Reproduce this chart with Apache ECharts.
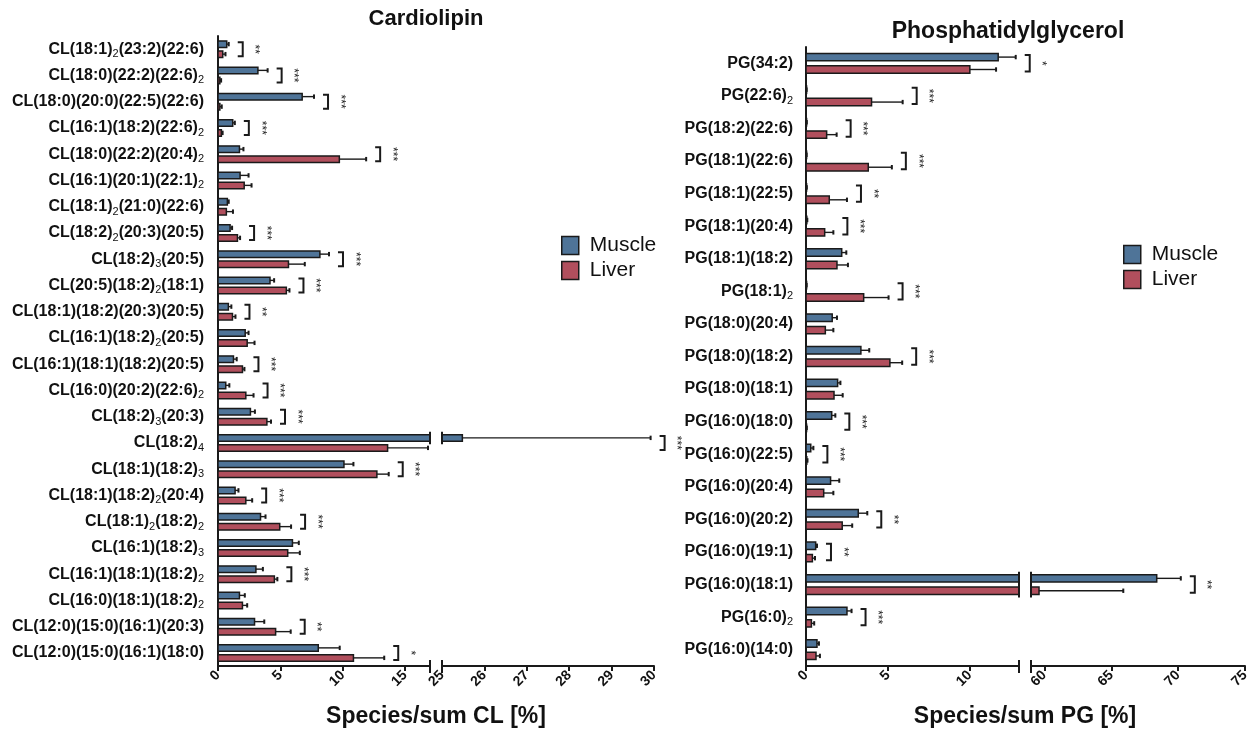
<!DOCTYPE html>
<html><head><meta charset="utf-8">
<script src="https://cdn.jsdelivr.net/npm/echarts@6/dist/echarts.min.js"></script>
<style>html,body{margin:0;padding:0;background:#fff}#c{width:1254px;height:734px}</style>
</head><body><div id="c"></div>
<script>
// ---------- Cardiolipin data ----------
const clCategories = [
  'CL(18:1)_2(23:2)(22:6)','CL(18:0)(22:2)(22:6)_2','CL(18:0)(20:0)(22:5)(22:6)','CL(16:1)(18:2)(22:6)_2',
  'CL(18:0)(22:2)(20:4)_2','CL(16:1)(20:1)(22:1)_2','CL(18:1)_2(21:0)(22:6)','CL(18:2)_2(20:3)(20:5)',
  'CL(18:2)_3(20:5)','CL(20:5)(18:2)_2(18:1)','CL(18:1)(18:2)(20:3)(20:5)','CL(16:1)(18:2)_2(20:5)',
  'CL(16:1)(18:1)(18:2)(20:5)','CL(16:0)(20:2)(22:6)_2','CL(18:2)_3(20:3)','CL(18:2)_4',
  'CL(18:1)(18:2)_3','CL(18:1)(18:2)_2(20:4)','CL(18:1)_2(18:2)_2','CL(16:1)(18:2)_3',
  'CL(16:1)(18:1)(18:2)_2','CL(16:0)(18:1)(18:2)_2','CL(12:0)(15:0)(16:1)(20:3)','CL(12:0)(15:0)(16:1)(18:0)'
];
const clMuscle    = [0.70,3.20,6.75,1.18,1.72,1.77,0.75,0.97,8.17,4.17,0.83,2.18,1.24,0.62,2.60,25.48,10.10,1.37,3.41,5.97,3.04,1.72,2.93,8.04];
const clMuscleErr = [0.16,0.78,0.95,0.17,0.32,0.68,0.11,0.16,0.73,0.33,0.24,0.27,0.26,0.29,0.36,4.44,0.76,0.27,0.40,0.51,0.56,0.43,0.78,1.72];
const clLiver     = [0.38,0.15,0.15,0.27,9.73,2.10,0.67,1.56,5.65,5.48,1.16,2.34,1.96,2.23,3.92,13.60,12.74,2.23,4.95,5.59,4.52,1.96,4.62,10.86];
const clLiverErr  = [0.22,0.10,0.15,0.10,2.15,0.59,0.53,0.21,1.31,0.25,0.24,0.59,0.16,0.62,0.33,3.24,0.95,0.51,0.91,0.97,0.24,0.38,1.21,2.47];
const clSig       = ['**','***','***','***','***','','','***','***','***','**','','***','***','***','***','***','***','***','','***','','**','*'];
const clTicks1 = [0,5,10,15];
const clTicks2 = [25,26,27,28,29,30];

// ---------- Phosphatidylglycerol data ----------
const pgCategories = [
  'PG(34:2)','PG(22:6)_2','PG(18:2)(22:6)','PG(18:1)(22:6)','PG(18:1)(22:5)','PG(18:1)(20:4)','PG(18:1)(18:2)',
  'PG(18:1)_2','PG(18:0)(20:4)','PG(18:0)(18:2)','PG(18:0)(18:1)','PG(16:0)(18:0)','PG(16:0)(22:5)','PG(16:0)(20:4)',
  'PG(16:0)(20:2)','PG(16:0)(19:1)','PG(16:0)(18:1)','PG(16:0)_2','PG(16:0)(14:0)'
];
const pgMuscle    = [11.73,0.02,0.03,0.02,0.03,0.05,2.18,0.02,1.60,3.35,1.93,1.57,0.29,1.50,3.19,0.59,68.4,2.50,0.67];
const pgMuscleErr = [1.07,0.02,0.02,0.02,0.02,0.03,0.28,0.02,0.29,0.51,0.17,0.22,0.16,0.53,0.55,0.08,1.8,0.28,0.12];
const pgLiver     = [10.00,4.00,1.26,3.80,1.42,1.14,1.89,3.52,1.18,5.12,1.71,0.03,0.05,1.08,2.21,0.39,59.6,0.33,0.61];
const pgLiverErr  = [1.60,1.90,0.61,1.44,1.08,0.53,0.67,1.52,0.49,0.75,0.53,0.02,0.04,0.59,0.61,0.16,6.3,0.17,0.24];
const pgSig       = ['*','***','***','***','**','***','','***','','***','','***','***','','**','**','**','***',''];
const pgTicks1 = [0,5,10];
const pgTicks2 = [60,65,70,75];

const BLUE = '#4f7498', RED = '#b14f5d', EDGE = '#1a1a1a', TXT = '#111';
const FONT = '"Liberation Sans", Arial, Helvetica, sans-serif';

const panels = [
  { cats: clCategories, m: clMuscle, me: clMuscleErr, l: clLiver, le: clLiverErr, sig: clSig,
    top: 36, height: 630, off: 5, thick: 6.5, labelMargin: 14,
    segs: [ {min: 0, max: 17, left: 218, width: 212, ticks: clTicks1},
            {min: 25, max: 30, left: 442, width: 212, ticks: clTicks2} ] },
  { cats: pgCategories, m: pgMuscle, me: pgMuscleErr, l: pgLiver, le: pgLiverErr, sig: pgSig,
    top: 47, height: 619, off: 6.2, thick: 7.4, labelMargin: 13,
    segs: [ {min: 0, max: 13, left: 806, width: 213, ticks: pgTicks1},
            {min: 59, max: 75, left: 1031, width: 214, ticks: pgTicks2} ] }
];

function barRender(seg, off, thick, color) {
  return function (params, api) {
    const i = api.value(0), v = api.value(1), e = api.value(2);
    const X = val => api.coord([val, i])[0];
    const yc = api.coord([seg.min, i])[1] + off;
    const y0 = yc - thick / 2;
    const ch = [];
    if (v > seg.min) {
      const a = seg.min, b = Math.min(v, seg.max);
      ch.push({ type: 'rect', shape: { x: X(a), y: y0, width: Math.max(X(b) - X(a), 0.6), height: thick },
        style: { fill: color, stroke: EDGE, lineWidth: 1.5 } });
      if (v > seg.max) ch.push({ type: 'line', shape: { x1: X(seg.max), y1: y0 - 3, x2: X(seg.max), y2: y0 + thick + 3 }, style: { stroke: EDGE, lineWidth: 2 } });
      if (seg.min > 0) ch.push({ type: 'line', shape: { x1: X(seg.min), y1: y0 - 3, x2: X(seg.min), y2: y0 + thick + 3 }, style: { stroke: EDGE, lineWidth: 2 } });
    }
    const ea = Math.max(v, seg.min), eb = Math.min(v + e, seg.max);
    if (eb > ea) ch.push({ type: 'line', shape: { x1: X(ea), y1: yc, x2: X(eb), y2: yc }, style: { stroke: EDGE, lineWidth: 1.4 } });
    if (v + e >= seg.min && v + e <= seg.max) ch.push({ type: 'line', shape: { x1: X(v + e), y1: yc - 2.2, x2: X(v + e), y2: yc + 2.2 }, style: { stroke: EDGE, lineWidth: 2 } });
    return { type: 'group', children: ch };
  };
}

function sigRender(seg, p) {
  return function (params, api) {
    const i = api.value(0), end = api.value(1);
    const s = p.sig[i];
    if (!s || end < seg.min || end > seg.max) return null;
    const yc = api.coord([seg.min, i])[1];
    const xb = api.coord([end, i])[0] + 14;
    const h = p.off + 2;
    return { type: 'group', children: [
      { type: 'polyline', shape: { points: [[xb - 5, yc - h], [xb, yc - h], [xb, yc + h], [xb - 5, yc + h]] },
        style: { stroke: EDGE, lineWidth: 2, fill: null } },
      { type: 'text', x: xb + 12, y: yc, rotation: -Math.PI / 2,
        style: { text: s, fontSize: 12, fontFamily: FONT, fill: '#222', align: 'center', verticalAlign: 'middle' } }
    ] };
  };
}

function breakRender(seg) {
  return function (params, api) {
    const cs = params.coordSys;
    const yb = cs.y + cs.height;
    const xv = api.coord([seg.min > 0 ? seg.min : seg.max, 0])[0];
    return { type: 'line', shape: { x1: xv, y1: yb - 6, x2: xv, y2: yb + 7 }, style: { stroke: EDGE, lineWidth: 2 } };
  };
}

const grid = [], xAxis = [], yAxis = [], series = [];
panels.forEach(p => {
  p.segs.forEach((seg, si) => {
    const gi = grid.length;
    grid.push({ left: seg.left, width: seg.width, top: p.top, height: p.height });
    xAxis.push({
      type: 'value', gridIndex: gi, min: seg.min, max: seg.max,
      axisLine: { show: true, lineStyle: { color: EDGE, width: 2 } },
      axisTick: { show: true, customValues: seg.ticks, length: 5, lineStyle: { color: EDGE, width: 2 } },
      axisLabel: { customValues: seg.ticks, rotate: 45, margin: 7, fontSize: 14, fontWeight: 'bold', fontFamily: FONT, color: TXT },
      splitLine: { show: false }
    });
    yAxis.push({
      type: 'category', gridIndex: gi, data: p.cats, inverse: true, show: si === 0,
      axisLine: { show: true, lineStyle: { color: EDGE, width: 2 } },
      axisTick: { show: false },
      axisLabel: {
        interval: 0, margin: p.labelMargin, fontSize: 16, fontWeight: 'bold', fontFamily: FONT, color: TXT, lineHeight: 22,
        formatter: s => s.replace(/_(\d)/g, '{s|$1}'),
        rich: { s: { fontSize: 11, fontFamily: FONT, fontWeight: 'normal', color: TXT, lineHeight: 11, padding: [10, 0, 0, 0] } }
      }
    });
    series.push({
      type: 'custom', name: 'Muscle', xAxisIndex: gi, yAxisIndex: gi, itemStyle: { color: BLUE },
      encode: { x: 1, y: 0 }, data: p.m.map((v, i) => [i, v, p.me[i]]),
      renderItem: barRender(seg, -p.off, p.thick, BLUE)
    });
    series.push({
      type: 'custom', name: 'Liver', xAxisIndex: gi, yAxisIndex: gi, itemStyle: { color: RED },
      encode: { x: 1, y: 0 }, data: p.l.map((v, i) => [i, v, p.le[i]]),
      renderItem: barRender(seg, p.off, p.thick, RED)
    });
    series.push({
      type: 'custom', name: 'sig', xAxisIndex: gi, yAxisIndex: gi,
      encode: { x: 1, y: 0 }, data: p.m.map((v, i) => [i, Math.max(v + p.me[i], p.l[i] + p.le[i])]),
      renderItem: sigRender(seg, p)
    });
    series.push({
      type: 'custom', name: 'break', xAxisIndex: gi, yAxisIndex: gi,
      encode: { x: 1, y: 0 }, data: [[0, seg.min]],
      renderItem: breakRender(seg)
    });
  });
});

const legendItems = [
  { name: 'Muscle', icon: 'rect', itemStyle: { color: BLUE, borderColor: EDGE, borderWidth: 1.5 } },
  { name: 'Liver', icon: 'rect', itemStyle: { color: RED, borderColor: EDGE, borderWidth: 1.5 } }
];
const legendBase = {
  orient: 'vertical', itemWidth: 17, itemHeight: 18, itemGap: 4, selectedMode: false, padding: 0,
  textStyle: { fontSize: 21, fontFamily: FONT, color: TXT, lineHeight: 18, padding: [0, 0, 0, 6] },
  data: legendItems
};

const option = {
  animation: false,
  backgroundColor: '#fff',
  title: [
    { text: 'Cardiolipin', left: 426, top: 8, textAlign: 'center', padding: 0,
      textStyle: { fontSize: 22, fontWeight: 'bold', fontFamily: FONT, color: TXT } },
    { text: 'Phosphatidylglycerol', left: 1008, top: 20, textAlign: 'center', padding: 0,
      textStyle: { fontSize: 23, fontWeight: 'bold', fontFamily: FONT, color: TXT } },
    { text: 'Species/sum CL [%]', left: 436, top: 705, textAlign: 'center', padding: 0,
      textStyle: { fontSize: 23, fontWeight: 'bold', fontFamily: FONT, color: TXT } },
    { text: 'Species/sum PG [%]', left: 1025, top: 705, textAlign: 'center', padding: 0,
      textStyle: { fontSize: 23, fontWeight: 'bold', fontFamily: FONT, color: TXT } }
  ],
  legend: [
    Object.assign({}, legendBase, { left: 561, top: 235 }),
    Object.assign({}, legendBase, { left: 1123, top: 244 })
  ],
  grid, xAxis, yAxis, series
};

const chart = echarts.init(document.getElementById('c'), null, { renderer: 'canvas' });
chart.setOption(option);
</script>
</body></html>
